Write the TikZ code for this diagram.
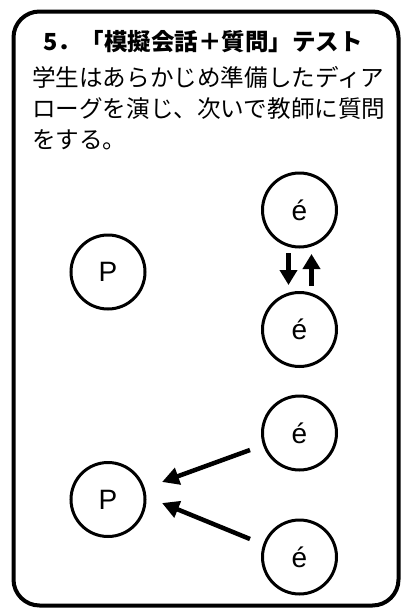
\documentclass[tikz,border=0pt]{standalone}
\usepackage{fontspec}
\setmainfont{Liberation Sans}
\newfontfamily\jp{Noto Sans CJK JP}
\usetikzlibrary{arrows.meta}
\tikzset{
  frame/.style={line width=4pt, rounded corners=26pt},
  person/.style={circle, draw, line width=3pt, minimum size=74pt, inner sep=0pt, font=\fontsize{28}{32}\selectfont},
  titletext/.style={inner sep=0pt, font=\jp\bfseries\fontsize{23.5}{28}\selectfont},
  bodytext/.style={inner sep=0pt, anchor=west, font=\jp\fontsize{23.6}{28}\selectfont},
  vflow/.style={line width=5pt, -{Triangle[length=15pt,width=17pt]}},
  dflow/.style={line width=4.5pt, -{Triangle[length=17pt,width=17pt]}}
}
\begin{document}
\begin{tikzpicture}[x=1pt,y=-1pt]
\useasboundingbox (0,0) rectangle (401,608);
\draw[frame] (13.5,11.5) rectangle (398.5,605.5);
\node[titletext] (title) at (203,42) {5．「模擬会話＋質問」テスト};
\node[bodytext] (l1) at (32,77) {学生はあらかじめ準備したディア};
\node[bodytext] (l2) at (32,108.5) {ローグを演じ、次いで教師に質問};
\node[bodytext] (l3) at (32,140) {をする。};
% top group
\node[person] (p1) at (108,272) {P};
\node[person] (e1) at (299.5,210) {é};
\node[person] (e2) at (299.5,329.5) {é};
\coordinate (d1) at (288.5,253);
\coordinate (d2) at (288.5,285);
\coordinate (u1) at (311.5,286);
\coordinate (u2) at (311.5,254);
\draw[vflow] (d1) -- (d2);
\draw[vflow] (u1) -- (u2);
% bottom group
\node[person] (p2) at (108,499.5) {P};
\node[person] (e3) at (299.5,433) {é};
\node[person] (e4) at (299.5,557) {é};
\coordinate (a1) at (250,450);
\coordinate (a2) at (162,482);
\coordinate (b1) at (250,539);
\coordinate (b2) at (162,503);
\draw[dflow] (a1) -- (a2);
\draw[dflow] (b1) -- (b2);
\end{tikzpicture}
\end{document}
